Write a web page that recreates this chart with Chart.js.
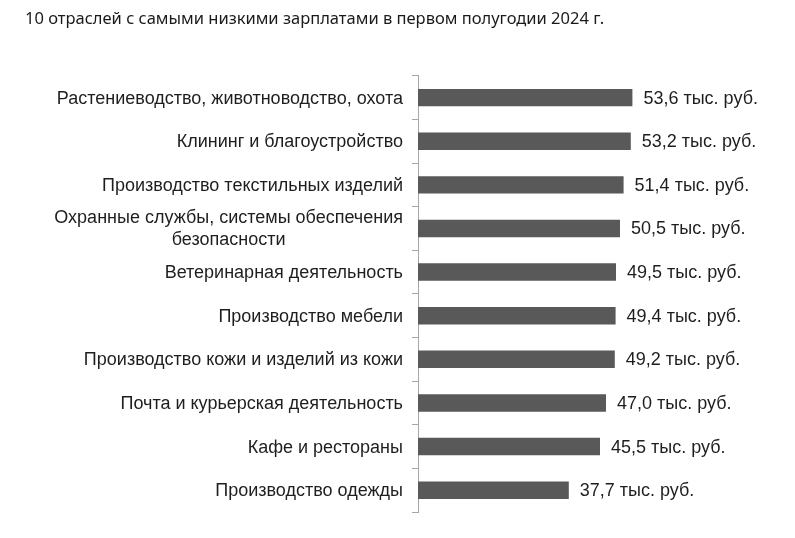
<!DOCTYPE html>
<html>
<head>
    <meta charset="utf-8">
    <title>Отрасли с низкими зарплатами</title>
    <script src="https://cdn.jsdelivr.net/npm/chart.js"></script>
    <style>
        body {
            margin: 0;
            background-color: #ffffff;
        }
        #wrap {
            width: 795px;
            height: 538px;
        }
    </style>
</head>
<body>
    <div id="wrap"><canvas id="salaryChart"></canvas></div>

    <script>
        // Данные графика
        const categories = [
            "Растениеводство, животноводство, охота",
            "Клининг и благоустройство",
            "Производство текстильных изделий",
            ["Охранные службы, системы обеспечения", "безопасности"],
            "Ветеринарная деятельность",
            "Производство мебели",
            "Производство кожи и изделий из кожи",
            "Почта и курьерская деятельность",
            "Кафе и рестораны",
            "Производство одежды"
        ];
        const salaries = [53.6, 53.2, 51.4, 50.5, 49.5, 49.4, 49.2, 47.0, 45.5, 37.7];
        const unit = " тыс. руб.";
        const title = "10 отраслей с самыми низкими зарплатами в первом полугодии 2024 г.";

        const labelFont = "18px 'Liberation Sans', Arial, sans-serif";
        const textColor = "#1e1e1e";

        // Подписи категорий (строки в многострочной подписи центрируются)
        const categoryLabels = {
            id: 'categoryLabels',
            afterDraw(chart) {
                const ctx = chart.ctx;
                const yScale = chart.scales.y;
                const right = chart.chartArea.left - 15;
                ctx.save();
                ctx.font = labelFont;
                ctx.fillStyle = textColor;
                ctx.textAlign = 'center';
                ctx.textBaseline = 'middle';
                categories.forEach((label, i) => {
                    const lines = Array.isArray(label) ? label : [label];
                    const w = Math.max(...lines.map(l => ctx.measureText(l).width));
                    const cy = yScale.getPixelForValue(i);
                    const lh = 22;
                    lines.forEach((line, j) => {
                        const y = cy + (j - (lines.length - 1) / 2) * lh + 1;
                        ctx.fillText(line, right - w / 2, y);
                    });
                });
                ctx.restore();
            }
        };

        // Подписи значений справа от столбцов
        const valueLabels = {
            id: 'valueLabels',
            afterDatasetsDraw(chart) {
                const ctx = chart.ctx;
                const meta = chart.getDatasetMeta(0);
                ctx.save();
                ctx.font = labelFont;
                ctx.fillStyle = textColor;
                ctx.textAlign = 'left';
                ctx.textBaseline = 'middle';
                meta.data.forEach((bar, i) => {
                    const text = salaries[i].toFixed(1).replace('.', ',') + unit;
                    ctx.fillText(text, bar.x + 11, bar.y + 1);
                });
                ctx.restore();
            }
        };

        const ctx = document.getElementById('salaryChart').getContext('2d');
        const chart = new Chart(ctx, {
            type: 'bar',
            data: {
                labels: categories,
                datasets: [{
                    data: salaries,
                    backgroundColor: '#595959',
                    barPercentage: 0.4,
                    categoryPercentage: 1.0
                }]
            },
            options: {
                indexAxis: 'y',
                responsive: true,
                maintainAspectRatio: false,
                animation: false,
                layout: {
                    padding: { left: 25, right: 17, top: 8, bottom: 26 }
                },
                scales: {
                    x: {
                        display: false,
                        min: 0,
                        max: 90
                    },
                    y: {
                        afterFit(scale) {
                            scale.width = 393;
                        },
                        ticks: { display: false },
                        grid: {
                            drawOnChartArea: false,
                            drawTicks: true,
                            tickLength: 6,
                            color: '#a6a6a6'
                        },
                        border: { color: '#a6a6a6', width: 1 }
                    }
                },
                plugins: {
                    legend: { display: false },
                    tooltip: { enabled: false },
                    title: {
                        display: true,
                        text: title,
                        align: 'start',
                        color: '#1a1a1a',
                        font: { family: "'Noto Sans', sans-serif", size: 16.5, weight: 'normal' },
                        padding: { top: 1, bottom: 47 }
                    }
                }
            },
            plugins: [categoryLabels, valueLabels]
        });
    </script>
</body>
</html>
